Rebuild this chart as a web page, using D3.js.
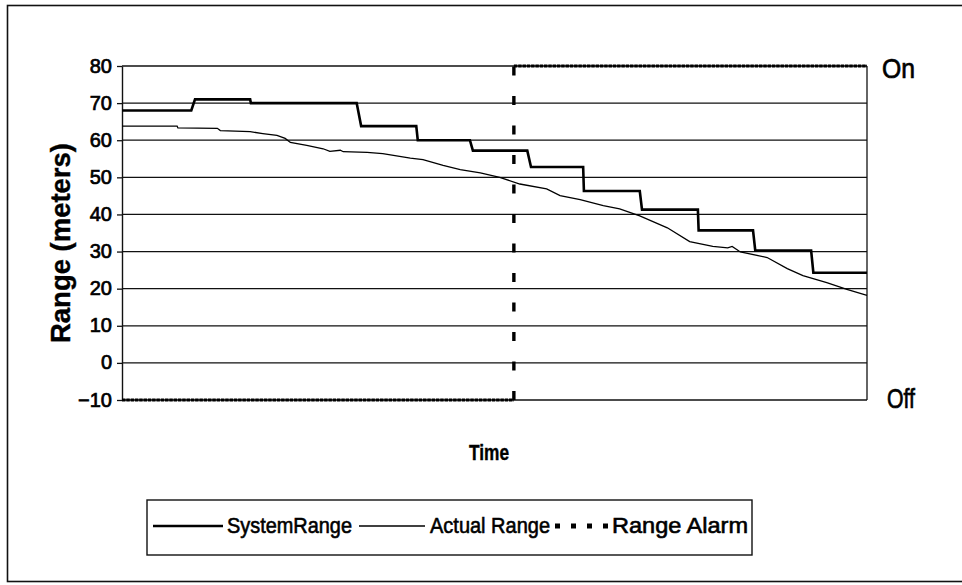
<!DOCTYPE html>
<html>
<head>
<meta charset="utf-8">
<script src="https://cdn.jsdelivr.net/npm/d3@7"></script>
<style>
  body { margin: 0; background: #fff; }
  svg { display: block; font-family: "Liberation Sans", Arial, sans-serif; }
</style>
</head>
<body>
<div id="chart"></div>
<script>
/* global d3 */
// y axis ticks (meters)
var yTicks = [-10, 0, 10, 20, 30, 40, 50, 60, 70, 80];

// system range, stepped (time in % of the run)
var systemTime = [0, 9.3, 9.8, 17.2, 17.3, 31.5, 32.1, 39.5, 39.7, 46.7, 47.1, 54.4, 54.9, 61.9, 62.0, 69.5, 69.8, 77.3, 77.4, 84.7, 85.0, 92.5, 92.8, 100];
var systemRange = [68, 68, 71, 71, 70, 70, 63.8, 63.8, 60, 60, 57.2, 57.2, 52.8, 52.8, 46.3, 46.3, 41.3, 41.3, 35.7, 35.7, 30.3, 30.3, 24.3, 24.3];

// actual range
var actualTime = [0, 7.4, 7.5, 12.8, 13.2, 17.2, 18.9, 20.8, 21.9, 22.6, 24.8, 27.0, 27.9, 29.3, 29.7, 32.9, 35.0, 38.7, 40.4, 43.1, 45.4, 48.1, 50.7, 53.4, 57.0, 58.8, 61.5, 64.6, 66.8, 69.5, 73.2, 76.2, 79.3, 81.3, 81.9, 83.0, 86.6, 89.3, 91.4, 94.6, 97.3, 100];
var actualRange = [63.8, 63.8, 63.3, 63.2, 62.6, 62.3, 61.8, 61.3, 60.5, 59.4, 58.6, 57.7, 57.0, 57.3, 56.9, 56.7, 56.4, 55.2, 54.8, 53.2, 52.1, 51.2, 50.0, 48.2, 46.9, 45.1, 44.0, 42.4, 41.5, 39.6, 36.4, 32.7, 31.4, 31.0, 31.4, 29.9, 28.4, 25.4, 23.5, 21.6, 19.8, 18.2];

// range alarm: off = -10, on = 80
var alarmTime = [0, 52.6, 52.6, 100];
var alarmRange = [-10, -10, 80, 80];

var legendNames = ["SystemRange", "Actual Range", "Range Alarm"];

var width = 962;
var height = 585;
var plot = { left: 122, right: 867, top: 66, bottom: 400 };

var svg = d3.select( "#chart" ).append( "svg" )
  .attr( "width", width )
  .attr( "height", height );

svg.append( "rect" )
  .attr( "width", width ).attr( "height", height )
  .attr( "fill", "#fff" );

// outer frame (runs off the right edge)
svg.append( "rect" )
  .attr( "x", 7.5 ).attr( "y", 5.5 )
  .attr( "width", 980 ).attr( "height", 576 )
  .attr( "fill", "none" )
  .attr( "stroke", "#111" )
  .attr( "stroke-width", 1.6 );

var x = d3.scaleLinear().domain( [0, 100] ).range( [plot.left, plot.right] );
var y = d3.scaleLinear().domain( [-10, 80] ).range( [plot.bottom, plot.top] );

// gridlines
svg.append( "g" )
  .selectAll( "line" )
  .data( yTicks )
  .enter().append( "line" )
  .attr( "x1", plot.left ).attr( "x2", plot.right )
  .attr( "y1", function ( d ) { return y( d ); } )
  .attr( "y2", function ( d ) { return y( d ); } )
  .attr( "stroke", "#111" )
  .attr( "stroke-width", 1.3 );

// right border of plot area
svg.append( "line" )
  .attr( "x1", plot.right ).attr( "x2", plot.right )
  .attr( "y1", plot.top ).attr( "y2", plot.bottom )
  .attr( "stroke", "#111" )
  .attr( "stroke-width", 1.3 );

var yAxis = svg.append( "g" )
  .attr( "transform", "translate(" + plot.left + ",0)" )
  .call( d3.axisLeft( y ).tickValues( yTicks ).tickSize( 5 ).tickSizeOuter( 0 ).tickPadding( 5 ) );

yAxis.select( ".domain" ).attr( "stroke", "#111" ).attr( "stroke-width", 1.4 );
yAxis.selectAll( ".tick line" ).attr( "stroke", "#111" ).attr( "stroke-width", 1.3 );
yAxis.selectAll( ".tick text" )
  .attr( "fill", "#000" )
  .attr( "stroke", "#000" )
  .attr( "stroke-width", 0.7 )
  .attr( "font-family", "Liberation Sans, Arial, sans-serif" )
  .attr( "font-size", 20 )
  .attr( "dy", "0.3em" );

// lines
var line = d3.line()
  .x( function ( d ) { return x( d[0] ); } )
  .y( function ( d ) { return y( d[1] ); } );

var actualPts = d3.zip( actualTime, actualRange );
var systemPts = d3.zip( systemTime, systemRange );
var alarmPts = d3.zip( alarmTime, alarmRange );

svg.append( "path" )
  .attr( "d", line( actualPts ) )
  .attr( "fill", "none" )
  .attr( "stroke", "#000" )
  .attr( "stroke-width", 1.3 );

svg.append( "path" )
  .attr( "d", line( systemPts ) )
  .attr( "fill", "none" )
  .attr( "stroke", "#000" )
  .attr( "stroke-width", 2.6 );

// alarm drawn segment by segment: long flat parts look almost solid
var alarmSegs = d3.pairs( alarmPts );
svg.append( "g" )
  .selectAll( "path" )
  .data( alarmSegs )
  .enter().append( "path" )
  .attr( "d", function ( d ) { return line( d ); } )
  .attr( "fill", "none" )
  .attr( "stroke", "#000" )
  .attr( "stroke-width", function ( d ) { return d[0][0] === d[1][0] ? 3.4 : 3; } )
  .attr( "stroke-dasharray", function ( d ) { return d[0][0] === d[1][0] ? "9,20.5" : "3.5,0.8"; } );

// on / off labels
svg.append( "text" )
  .attr( "x", 882 ).attr( "y", y( 80 ) + 12 )
  .attr( "font-size", 28 )
  .attr( "stroke", "#000" ).attr( "stroke-width", 0.7 )
  .attr( "textLength", 33 ).attr( "lengthAdjust", "spacingAndGlyphs" )
  .text( "On" );

svg.append( "text" )
  .attr( "x", 887 ).attr( "y", y( -10 ) + 8 )
  .attr( "font-size", 28 )
  .attr( "stroke", "#000" ).attr( "stroke-width", 0.7 )
  .attr( "textLength", 28 ).attr( "lengthAdjust", "spacingAndGlyphs" )
  .text( "Off" );

// axis titles
svg.append( "text" )
  .attr( "transform", "translate(70,243) rotate(-90)" )
  .attr( "text-anchor", "middle" )
  .attr( "font-size", 28 )
  .attr( "font-weight", "bold" )
  .attr( "stroke", "#000" ).attr( "stroke-width", 0.4 )
  .attr( "textLength", 200 ).attr( "lengthAdjust", "spacingAndGlyphs" )
  .text( "Range (meters)" );

svg.append( "text" )
  .attr( "x", 489 ).attr( "y", 460 )
  .attr( "text-anchor", "middle" )
  .attr( "font-size", 22 )
  .attr( "font-weight", "bold" )
  .attr( "stroke", "#000" ).attr( "stroke-width", 0.4 )
  .attr( "textLength", 40 ).attr( "lengthAdjust", "spacingAndGlyphs" )
  .text( "Time" );

// legend
var lg = svg.append( "g" );
lg.append( "rect" )
  .attr( "x", 147 ).attr( "y", 500 )
  .attr( "width", 605 ).attr( "height", 55 )
  .attr( "fill", "#fff" )
  .attr( "stroke", "#111" )
  .attr( "stroke-width", 1.4 );

var legendItems = [
  { name: legendNames[0], x1: 153, x2: 223, tx: 227, tw: 125, sw: 2.4, dash: null },
  { name: legendNames[1], x1: 359, x2: 425, tx: 430, tw: 120, sw: 1.3, dash: null },
  { name: legendNames[2], x1: 555, x2: 610, tx: 612, tw: 136, sw: 5, dash: "5,11" }
];

var item = lg.selectAll( ".item" )
  .data( legendItems )
  .enter().append( "g" )
  .attr( "class", "item" );

item.append( "line" )
  .attr( "x1", function ( d ) { return d.x1; } )
  .attr( "x2", function ( d ) { return d.x2; } )
  .attr( "y1", 526 ).attr( "y2", 526 )
  .attr( "stroke", "#000" )
  .attr( "stroke-width", function ( d ) { return d.sw; } )
  .attr( "stroke-dasharray", function ( d ) { return d.dash; } );

item.append( "text" )
  .attr( "x", function ( d ) { return d.tx; } )
  .attr( "y", 533 )
  .attr( "font-size", 22 )
  .attr( "stroke", "#000" ).attr( "stroke-width", 0.6 )
  .attr( "textLength", function ( d ) { return d.tw; } )
  .attr( "lengthAdjust", "spacingAndGlyphs" )
  .text( function ( d ) { return d.name; } );
</script>
</body>
</html>
